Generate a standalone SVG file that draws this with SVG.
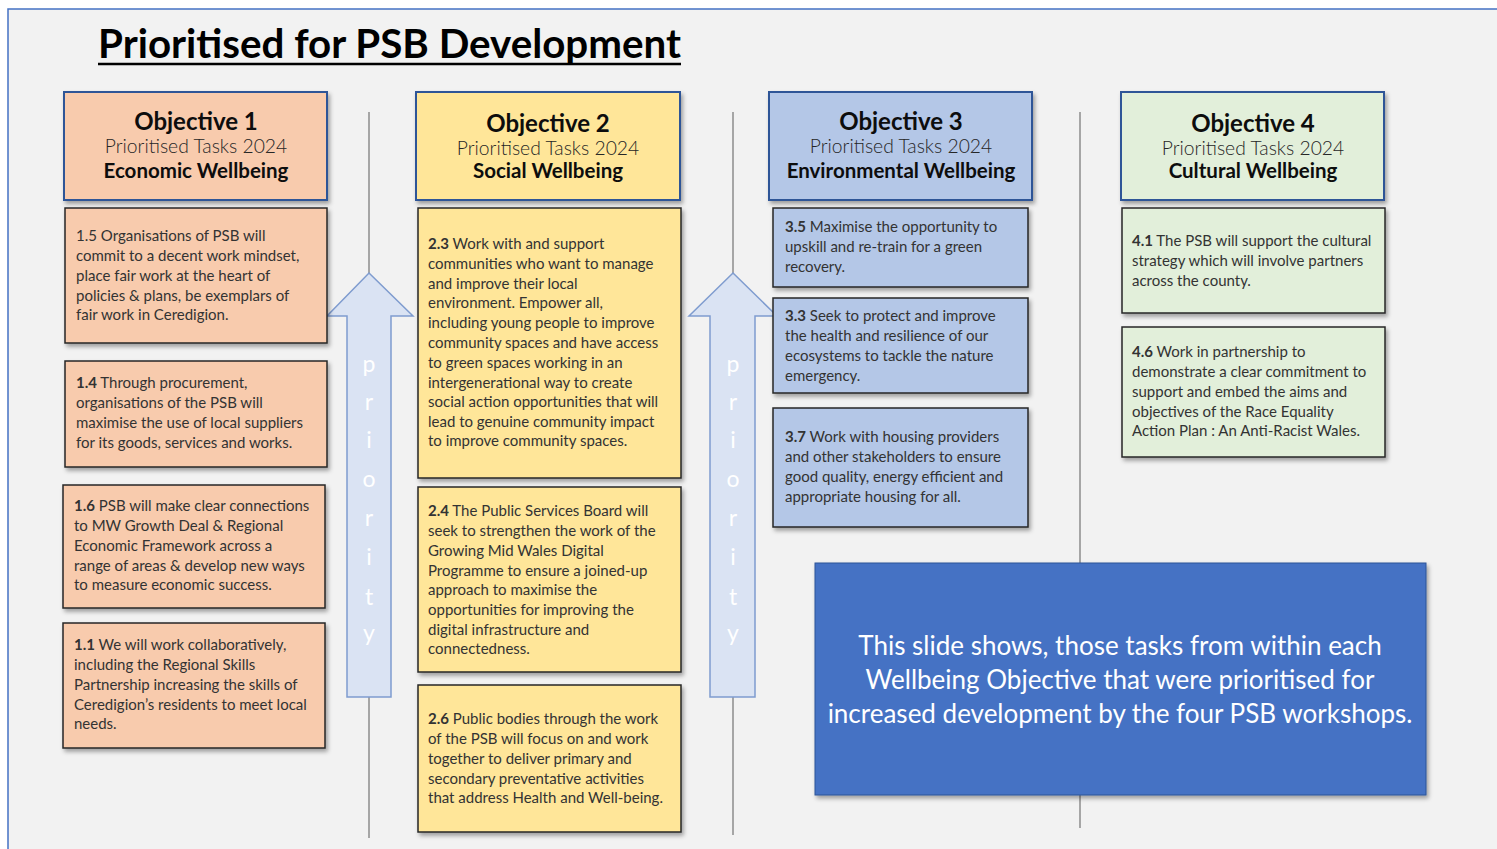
<svg xmlns="http://www.w3.org/2000/svg" width="1497" height="849" viewBox="0 0 1497 849">
<defs>
<filter id="sh" x="-10%" y="-10%" width="130%" height="130%">
<feDropShadow dx="2" dy="3" stdDeviation="2" flood-color="#000" flood-opacity="0.35"/>
</filter>
<style>
.hdr{stroke:#2f5597;stroke-width:2;filter:url(#sh)}
.task{stroke:#262626;stroke-width:1.5;filter:url(#sh)}
.o1{fill:#f8cbad}.o2{fill:#ffe699}.o3{fill:#b4c7e7}.o4{fill:#e2efda}
.h1{font-family:Lato,"Liberation Sans",sans-serif;font-weight:bold;font-size:24px;fill:#0d0d0d;text-anchor:middle}
.h2{font-family:Lato,"Liberation Sans",sans-serif;font-weight:300;font-size:19.3px;fill:#262626;text-anchor:middle}
.h3{font-family:Lato,"Liberation Sans",sans-serif;font-weight:bold;font-size:20.5px;fill:#0d0d0d;text-anchor:middle}
.t{font-family:Lato,"Liberation Sans",sans-serif;font-size:15px;fill:#333}
.b{font-weight:bold}
.vl{stroke:#a6a6a6;stroke-width:2;fill:none}
.arr{fill:#dae3f3;stroke:#7f9ccf;stroke-width:1.5}
.pr{font-family:Lato,"Liberation Sans",sans-serif;font-size:23px;fill:#ffffff;text-anchor:middle}
.note{font-family:Lato,"Liberation Sans",sans-serif;font-size:26px;fill:#ffffff;text-anchor:middle}
</style>
</defs>
<rect x="0" y="0" width="1497" height="849" fill="#ffffff"/>
<rect x="8" y="9" width="1495" height="845" fill="#f2f2f2" stroke="#4472c4" stroke-width="1.5"/>
<g id="title">
<text x="98" y="58" font-family="Lato,'Liberation Sans',sans-serif" font-weight="bold" font-size="40" fill="#000" textLength="583" lengthAdjust="spacingAndGlyphs">Prioritised for PSB Development</text>
<line x1="98" y1="64" x2="681" y2="64" stroke="#000" stroke-width="2.5"/>
</g>
<g id="connectors">
<line class="vl" x1="369" y1="112" x2="369" y2="838"/>
<line class="vl" x1="733" y1="112" x2="733" y2="835"/>
<line class="vl" x1="1080" y1="112" x2="1080" y2="828"/>
</g>
<g id="arrow1">
<polygon class="arr" points="369,273 413,316 391,316 391,697 347,697 347,316 327,316"/>
<text class="pr" x="369" y="372">p</text>
<text class="pr" x="369" y="410">r</text>
<text class="pr" x="369" y="448">i</text>
<text class="pr" x="369" y="487">o</text>
<text class="pr" x="369" y="526">r</text>
<text class="pr" x="369" y="565">i</text>
<text class="pr" x="369" y="605">t</text>
<text class="pr" x="369" y="641">y</text>
</g>
<g id="arrow2">
<polygon class="arr" points="733,273 777,316 755,316 755,697 710,697 710,316 689,316"/>
<text class="pr" x="733" y="372">p</text>
<text class="pr" x="733" y="410">r</text>
<text class="pr" x="733" y="448">i</text>
<text class="pr" x="733" y="487">o</text>
<text class="pr" x="733" y="526">r</text>
<text class="pr" x="733" y="565">i</text>
<text class="pr" x="733" y="605">t</text>
<text class="pr" x="733" y="641">y</text>
</g>
<g id="obj1">
<rect class="hdr o1" x="64" y="92" width="263" height="108"/>
<text class="h1" x="196" y="130">Objective 1</text>
<text class="h2" x="196" y="153">Prioritised Tasks 2024</text>
<text class="h3" x="196" y="178">Economic Wellbeing</text>
</g>
<g id="task15">
<rect class="task o1" x="65" y="208" width="262" height="135"/>
<text class="t" x="76" y="241">1.5 Organisations of PSB will</text>
<text class="t" x="76" y="261">commit to a decent work mindset,</text>
<text class="t" x="76" y="281">place fair work at the heart of</text>
<text class="t" x="76" y="301">policies &amp; plans, be exemplars of</text>
<text class="t" x="76" y="320">fair work in Ceredigion.</text>
</g>
<g id="task14">
<rect class="task o1" x="65" y="361" width="262" height="106"/>
<text class="t" x="76" y="388"><tspan class="b">1.4</tspan> Through procurement,</text>
<text class="t" x="76" y="408">organisations of the PSB will</text>
<text class="t" x="76" y="428">maximise the use of local suppliers</text>
<text class="t" x="76" y="448">for its goods, services and works.</text>
</g>
<g id="task16">
<rect class="task o1" x="63" y="485" width="262" height="123"/>
<text class="t" x="74" y="511"><tspan class="b">1.6</tspan> PSB will make clear connections</text>
<text class="t" x="74" y="531">to MW Growth Deal &amp; Regional</text>
<text class="t" x="74" y="551">Economic Framework across a</text>
<text class="t" x="74" y="571">range of areas &amp; develop new ways</text>
<text class="t" x="74" y="590">to measure economic success.</text>
</g>
<g id="task11">
<rect class="task o1" x="63" y="623" width="262" height="125"/>
<text class="t" x="74" y="650"><tspan class="b">1.1</tspan> We will work collaboratively,</text>
<text class="t" x="74" y="670">including the Regional Skills</text>
<text class="t" x="74" y="690">Partnership increasing the skills of</text>
<text class="t" x="74" y="710">Ceredigion’s residents to meet local</text>
<text class="t" x="74" y="729">needs.</text>
</g>
<g id="obj2">
<rect class="hdr o2" x="416" y="92" width="264" height="108"/>
<text class="h1" x="548" y="132">Objective 2</text>
<text class="h2" x="548" y="155">Prioritised Tasks 2024</text>
<text class="h3" x="548" y="178">Social Wellbeing</text>
</g>
<g id="task23">
<rect class="task o2" x="418" y="208" width="263" height="270"/>
<text class="t" x="428" y="249"><tspan class="b">2.3</tspan> Work with and support</text>
<text class="t" x="428" y="269">communities who want to manage</text>
<text class="t" x="428" y="289">and improve their local</text>
<text class="t" x="428" y="308">environment. Empower all,</text>
<text class="t" x="428" y="328">including young people to improve</text>
<text class="t" x="428" y="348">community spaces and have access</text>
<text class="t" x="428" y="368">to green spaces working in an</text>
<text class="t" x="428" y="388">intergenerational way to create</text>
<text class="t" x="428" y="407">social action opportunities that will</text>
<text class="t" x="428" y="427">lead to genuine community impact</text>
<text class="t" x="428" y="446">to improve community spaces.</text>
</g>
<g id="task24">
<rect class="task o2" x="418" y="487" width="263" height="185"/>
<text class="t" x="428" y="516"><tspan class="b">2.4</tspan> The Public Services Board will</text>
<text class="t" x="428" y="536">seek to strengthen the work of the</text>
<text class="t" x="428" y="556">Growing Mid Wales Digital</text>
<text class="t" x="428" y="576">Programme to ensure a joined-up</text>
<text class="t" x="428" y="595">approach to maximise the</text>
<text class="t" x="428" y="615">opportunities for improving the</text>
<text class="t" x="428" y="635">digital infrastructure and</text>
<text class="t" x="428" y="654">connectedness.</text>
</g>
<g id="task26">
<rect class="task o2" x="418" y="685" width="263" height="147"/>
<text class="t" x="428" y="724"><tspan class="b">2.6</tspan> Public bodies through the work</text>
<text class="t" x="428" y="744">of the PSB will focus on and work</text>
<text class="t" x="428" y="764">together to deliver primary and</text>
<text class="t" x="428" y="784">secondary preventative activities</text>
<text class="t" x="428" y="803">that address Health and Well-being.</text>
</g>
<g id="obj3">
<rect class="hdr o3" x="769" y="92" width="263" height="108"/>
<text class="h1" x="901" y="130">Objective 3</text>
<text class="h2" x="901" y="153">Prioritised Tasks 2024</text>
<text class="h3" x="901" y="178">Environmental Wellbeing</text>
</g>
<g id="task35">
<rect class="task o3" x="773" y="208" width="255" height="79"/>
<text class="t" x="785" y="232"><tspan class="b">3.5</tspan> Maximise the opportunity to</text>
<text class="t" x="785" y="252">upskill and re-train for a green</text>
<text class="t" x="785" y="272">recovery.</text>
</g>
<g id="task33">
<rect class="task o3" x="773" y="298" width="255" height="95"/>
<text class="t" x="785" y="321"><tspan class="b">3.3</tspan> Seek to protect and improve</text>
<text class="t" x="785" y="341">the health and resilience of our</text>
<text class="t" x="785" y="361">ecosystems to tackle the nature</text>
<text class="t" x="785" y="381">emergency.</text>
</g>
<g id="task37">
<rect class="task o3" x="773" y="408" width="255" height="119"/>
<text class="t" x="785" y="442"><tspan class="b">3.7</tspan> Work with housing providers</text>
<text class="t" x="785" y="462">and other stakeholders to ensure</text>
<text class="t" x="785" y="482">good quality, energy efficient and</text>
<text class="t" x="785" y="502">appropriate housing for all.</text>
</g>
<g id="obj4">
<rect class="hdr o4" x="1121" y="92" width="263" height="108"/>
<text class="h1" x="1253" y="132">Objective 4</text>
<text class="h2" x="1253" y="155">Prioritised Tasks 2024</text>
<text class="h3" x="1253" y="178">Cultural Wellbeing</text>
</g>
<g id="task41">
<rect class="task o4" x="1122" y="208" width="263" height="105"/>
<text class="t" x="1132" y="246"><tspan class="b">4.1</tspan> The PSB will support the cultural</text>
<text class="t" x="1132" y="266">strategy which will involve partners</text>
<text class="t" x="1132" y="286">across the county.</text>
</g>
<g id="task46">
<rect class="task o4" x="1122" y="327" width="263" height="130"/>
<text class="t" x="1132" y="357"><tspan class="b">4.6</tspan> Work in partnership to</text>
<text class="t" x="1132" y="377">demonstrate a clear commitment to</text>
<text class="t" x="1132" y="397">support and embed the aims and</text>
<text class="t" x="1132" y="417">objectives of the Race Equality</text>
<text class="t" x="1132" y="436">Action Plan : An Anti-Racist Wales.</text>
</g>
<g id="note">
<rect x="815" y="563" width="611" height="232" fill="#4472c4" stroke="#2f5597" stroke-width="1" filter="url(#sh)"/>
<text class="note" x="1120" y="655">This slide shows, those tasks from within each</text>
<text class="note" x="1120" y="689">Wellbeing Objective that were prioritised for</text>
<text class="note" x="1120" y="723">increased development by the four PSB workshops.</text>
</g>
</svg>
